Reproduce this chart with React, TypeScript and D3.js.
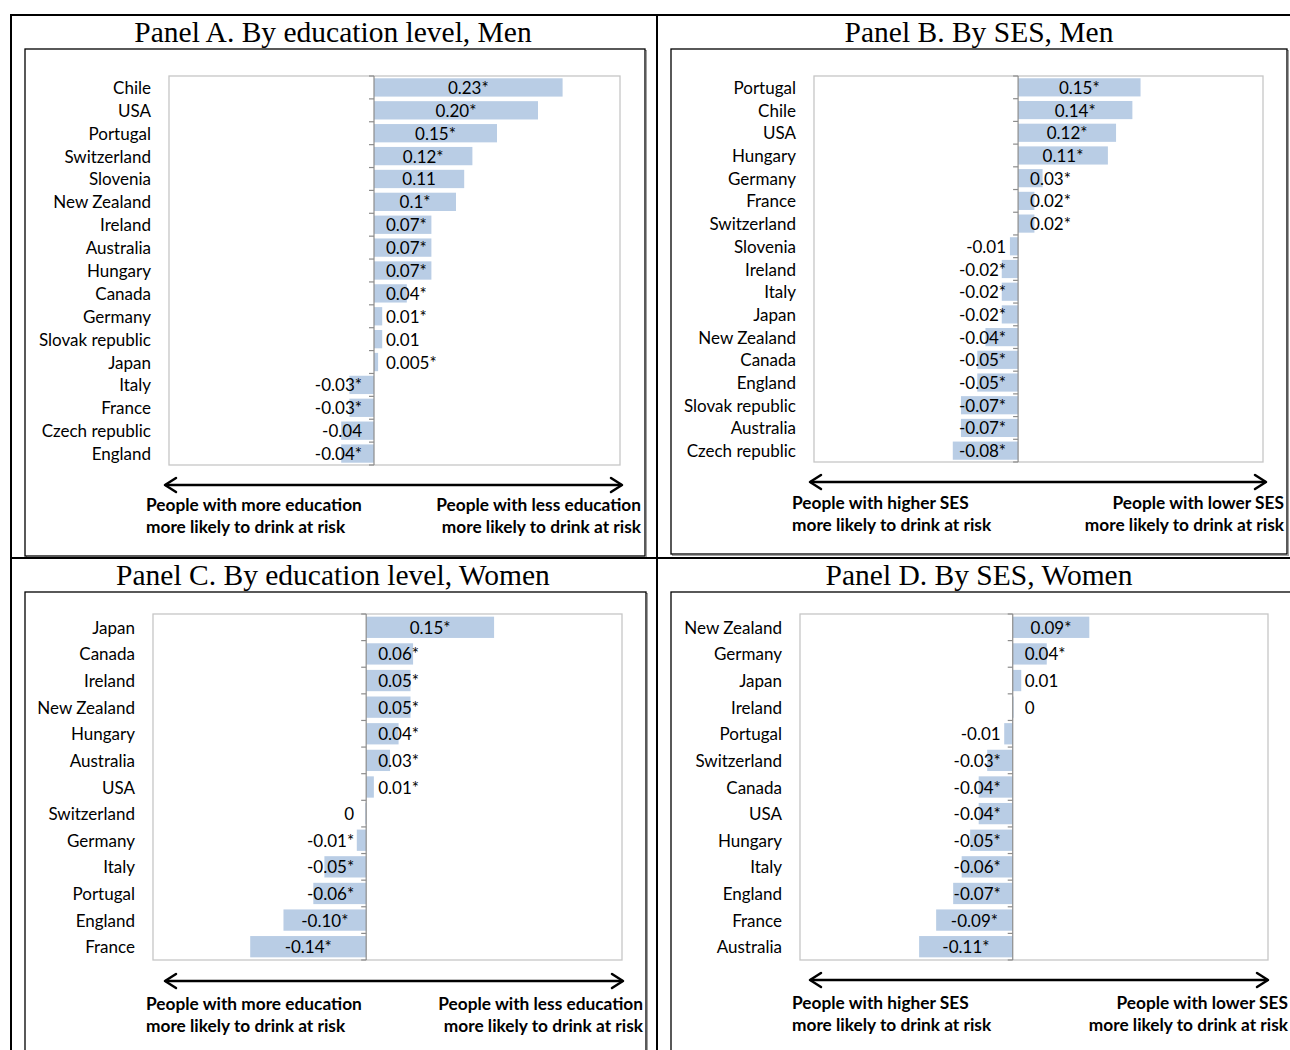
import React from "react";
import * as d3 from "d3";

// ---------- DATA ----------
const panelATitle = "Panel A. By education level, Men";
const panelACountries = ["Chile", "USA", "Portugal", "Switzerland", "Slovenia", "New Zealand", "Ireland", "Australia", "Hungary", "Canada", "Germany", "Slovak republic", "Japan", "Italy", "France", "Czech republic", "England"];
const panelAValues = [0.23, 0.2, 0.15, 0.12, 0.11, 0.1, 0.07, 0.07, 0.07, 0.04, 0.01, 0.01, 0.005, -0.03, -0.03, -0.04, -0.04];
const panelALabels = ["0.23*", "0.20*", "0.15*", "0.12*", "0.11", "0.1*", "0.07*", "0.07*", "0.07*", "0.04*", "0.01*", "0.01", "0.005*", "-0.03*", "-0.03*", "-0.04", "-0.04*"];

const panelBTitle = "Panel B. By SES, Men";
const panelBCountries = ["Portugal", "Chile", "USA", "Hungary", "Germany", "France", "Switzerland", "Slovenia", "Ireland", "Italy", "Japan", "New Zealand", "Canada", "England", "Slovak republic", "Australia", "Czech republic"];
const panelBValues = [0.15, 0.14, 0.12, 0.11, 0.03, 0.02, 0.02, -0.01, -0.02, -0.02, -0.02, -0.04, -0.05, -0.05, -0.07, -0.07, -0.08];
const panelBLabels = ["0.15*", "0.14*", "0.12*", "0.11*", "0.03*", "0.02*", "0.02*", "-0.01", "-0.02*", "-0.02*", "-0.02*", "-0.04*", "-0.05*", "-0.05*", "-0.07*", "-0.07*", "-0.08*"];

const panelCTitle = "Panel C. By education level, Women";
const panelCCountries = ["Japan", "Canada", "Ireland", "New Zealand", "Hungary", "Australia", "USA", "Switzerland", "Germany", "Italy", "Portugal", "England", "France"];
const panelCValues = [0.15, 0.055, 0.052, 0.052, 0.038, 0.028, 0.009, -0.001, -0.011, -0.049, -0.062, -0.097, -0.136];
const panelCLabels = ["0.15*", "0.06*", "0.05*", "0.05*", "0.04*", "0.03*", "0.01*", "0", "-0.01*", "-0.05*", "-0.06*", "-0.10*", "-0.14*"];

const panelDTitle = "Panel D. By SES, Women";
const panelDCountries = ["New Zealand", "Germany", "Japan", "Ireland", "Portugal", "Switzerland", "Canada", "USA", "Hungary", "Italy", "England", "France", "Australia"];
const panelDValues = [0.09, 0.04, 0.01, 0.001, -0.01, -0.03, -0.04, -0.04, -0.05, -0.06, -0.07, -0.09, -0.11];
const panelDLabels = ["0.09*", "0.04*", "0.01", "0", "-0.01", "-0.03*", "-0.04*", "-0.04*", "-0.05*", "-0.06*", "-0.07*", "-0.09*", "-0.11*"];

const xDomain = [-0.25, 0.3];

const eduLeft = ["People with more education", "more likely to drink at risk"];
const eduRight = ["People with less education", "more likely to drink at risk"];
const sesLeft = ["People with higher SES", "more likely to drink at risk"];
const sesRight = ["People with lower SES", "more likely to drink at risk"];

// ---------- STYLE / LAYOUT ----------
const BAR = "#b9cde5";
const FONT = "Lato, 'Liberation Sans', sans-serif";
const FS = 17;
const BOLD_FS = 17.3;
const TITLE_FONT = "'Liberation Serif', 'Times New Roman', serif";
const TITLE_FS = 29.5;

type Layout = {
  title: { x: number; y: number };
  box: { x: number; y: number; w: number; h: number };
  plot: { x: number; y: number; w: number; h: number };
  arrow: { x1: number; x2: number; y: number };
  textL: number;
  textR: number;
  textY: number;
};

const layouts: Layout[] = [
  { title: { x: 333, y: 42 }, box: { x: 25, y: 49, w: 620, h: 507 }, plot: { x: 169, y: 76, w: 451, h: 389 }, arrow: { x1: 165, x2: 622, y: 485 }, textL: 146, textR: 641, textY: 511 },
  { title: { x: 979, y: 42 }, box: { x: 671, y: 49, w: 616, h: 505 }, plot: { x: 814, y: 76, w: 449, h: 386 }, arrow: { x1: 810, x2: 1266, y: 482 }, textL: 792, textR: 1284, textY: 509 },
  { title: { x: 333, y: 585 }, box: { x: 25, y: 592, w: 621, h: 480 }, plot: { x: 153, y: 614, w: 469, h: 346 }, arrow: { x1: 165, x2: 623, y: 981 }, textL: 146, textR: 643, textY: 1010 },
  { title: { x: 979, y: 585 }, box: { x: 671, y: 592, w: 620, h: 480 }, plot: { x: 800, y: 614, w: 468, h: 346 }, arrow: { x1: 810, x2: 1268, y: 980 }, textL: 792, textR: 1288, textY: 1009 },
];

const panels = [
  { title: panelATitle, countries: panelACountries, values: panelAValues, labels: panelALabels, left: eduLeft, right: eduRight },
  { title: panelBTitle, countries: panelBCountries, values: panelBValues, labels: panelBLabels, left: sesLeft, right: sesRight },
  { title: panelCTitle, countries: panelCCountries, values: panelCValues, labels: panelCLabels, left: eduLeft, right: eduRight },
  { title: panelDTitle, countries: panelDCountries, values: panelDValues, labels: panelDLabels, left: sesLeft, right: sesRight },
];

let ctx: CanvasRenderingContext2D | null = null;
function textWidth(s: string, font: string) {
  if (!ctx) {
    const c = document.createElement("canvas");
    ctx = c.getContext("2d");
  }
  if (!ctx) return s.length * 8;
  ctx.font = font;
  return ctx.measureText(s).width;
}

function Arrow({ x1, x2, y }: { x1: number; x2: number; y: number }) {
  const hl = 11, hh = 7;
  return (
    <g stroke="#000" strokeWidth={2.5} fill="none" strokeLinecap="round" strokeLinejoin="round">
      <line x1={x1 + 1} x2={x2 - 1} y1={y} y2={y} />
      <polyline points={`${x1 + hl},${y - hh} ${x1},${y} ${x1 + hl},${y + hh}`} />
      <polyline points={`${x2 - hl},${y - hh} ${x2},${y} ${x2 - hl},${y + hh}`} />
    </g>
  );
}

function Panel({ p, l }: { p: (typeof panels)[number]; l: Layout }) {
  const x = d3.scaleLinear().domain(xDomain).range([l.plot.x, l.plot.x + l.plot.w]);
  const y = d3.scaleBand<string>().domain(p.countries).range([l.plot.y, l.plot.y + l.plot.h]).paddingInner(0.2).paddingOuter(0.1);
  const ax = x(0);
  const step = y.step();
  const font = `${FS}px ${FONT}`;
  const ticks = d3.range(p.countries.length + 1).map((i) => l.plot.y + i * step);
  return (
    <g>
      <text x={l.title.x} y={l.title.y} textAnchor="middle" fontFamily={TITLE_FONT} fontSize={TITLE_FS} fill="#000">{p.title}</text>
      <rect x={l.box.x + 1.5} y={l.box.y + 1.5} width={l.box.w} height={l.box.h} fill="none" stroke="#a0a0a0" strokeWidth={1} />
      <rect x={l.box.x} y={l.box.y} width={l.box.w} height={l.box.h} fill="#fff" stroke="#000" strokeWidth={1.3} />
      <rect x={l.plot.x} y={l.plot.y} width={l.plot.w} height={l.plot.h} fill="#fff" stroke="#c6c6c6" strokeWidth={1.3} />
      {p.countries.map((c, i) => {
        const v = p.values[i];
        const x0 = x(Math.min(0, v));
        const x1 = x(Math.max(0, v));
        return <rect key={c} x={x0} y={y(c)} width={Math.max(0, x1 - x0)} height={y.bandwidth()} fill={BAR} />;
      })}
      <line x1={ax} x2={ax} y1={l.plot.y} y2={l.plot.y + l.plot.h} stroke="#8c8c8c" strokeWidth={1.2} />
      {ticks.map((t, i) => (
        <line key={i} x1={ax - 5} x2={ax} y1={t} y2={t} stroke="#8c8c8c" strokeWidth={1.2} />
      ))}
      {p.countries.map((c) => (
        <text key={c} x={l.plot.x - 18} y={(y(c) ?? 0) + y.bandwidth() / 2} textAnchor="end" dominantBaseline="central" fontFamily={FONT} fontSize={FS} fill="#000">{c}</text>
      ))}
      {p.countries.map((c, i) => {
        const v = p.values[i];
        const lab = p.labels[i];
        const w = textWidth(lab, font);
        const bc = (x(v) + ax) / 2;
        const cx = v >= 0 ? Math.max(bc, ax + 12 + w / 2) : Math.min(bc, ax - 12 - w / 2);
        return (
          <text key={c + "l"} x={cx} y={(y(c) ?? 0) + y.bandwidth() / 2} textAnchor="middle" dominantBaseline="central" fontFamily={FONT} fontSize={FS} fill="#000">{lab}</text>
        );
      })}
      <Arrow {...l.arrow} />
      {p.left.map((s, i) => (
        <text key={"L" + i} x={l.textL} y={l.textY + i * 22} fontFamily={FONT} fontWeight="bold" fontSize={BOLD_FS} fill="#000">{s}</text>
      ))}
      {p.right.map((s, i) => (
        <text key={"R" + i} x={l.textR} y={l.textY + i * 22} textAnchor="end" fontFamily={FONT} fontWeight="bold" fontSize={BOLD_FS} fill="#000">{s}</text>
      ))}
    </g>
  );
}

export default function App() {
  return (
    <svg width={1290} height={1050} style={{ position: "absolute", left: 0, top: 0, background: "#fff" }}>
      <rect x={0} y={0} width={1290} height={1050} fill="#fff" />
      {panels.map((p, i) => (
        <Panel key={i} p={p} l={layouts[i]} />
      ))}
      {/* table frame */}
      <g stroke="#000" strokeWidth={2}>
        <line x1={10} x2={1290} y1={15} y2={15} />
        <line x1={11} x2={11} y1={14} y2={1050} />
        <line x1={657} x2={657} y1={14} y2={1050} />
        <line x1={10} x2={1290} y1={558} y2={558} />
      </g>
    </svg>
  );
}
